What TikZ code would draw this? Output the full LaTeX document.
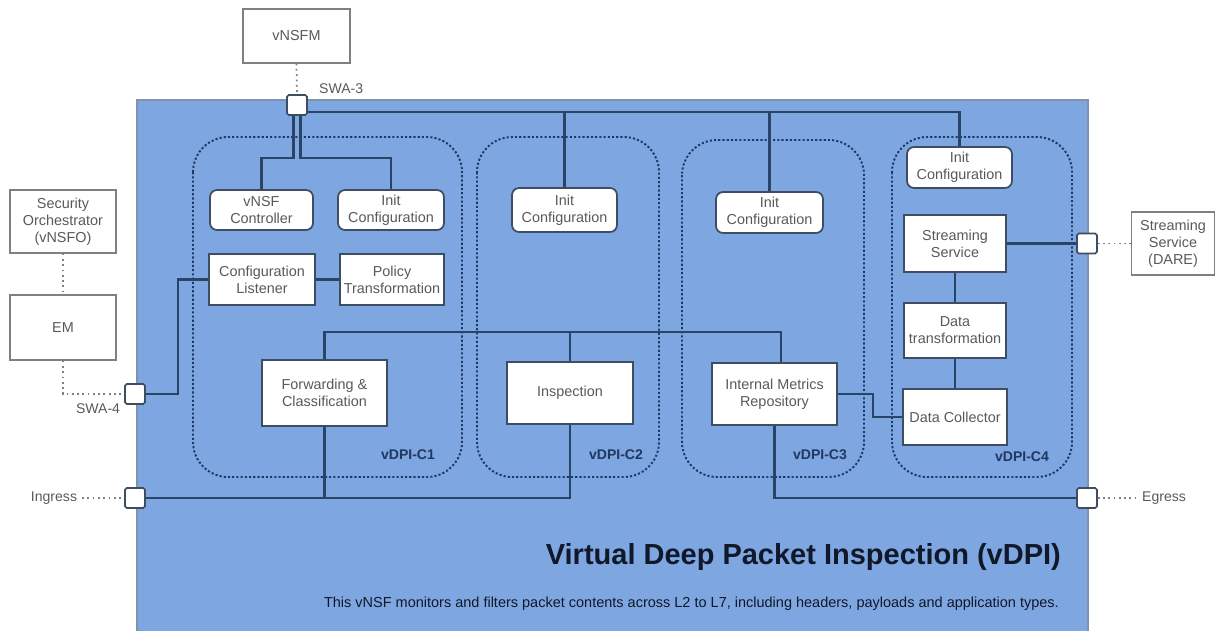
\documentclass[tikz,border=0pt]{standalone}
\usepackage{fontspec}
\setmainfont{Liberation Sans}
\usetikzlibrary{positioning,calc}

\definecolor{vdpiblue}{HTML}{7EA6E0}
\definecolor{vdpiedge}{HTML}{7F93B0}
\definecolor{linkblue}{HTML}{2A4468}
\definecolor{grpblue}{HTML}{1F3864}
\definecolor{boxline}{HTML}{3F4D63}
\definecolor{extline}{HTML}{808080}
\definecolor{txtgray}{HTML}{595959}
\definecolor{titleink}{HTML}{10182A}

\begin{document}
\begin{tikzpicture}[
    x=0.02cm, y=-0.02cm,
    node font=\fontsize{8.2}{9.6}\selectfont,
    inner box/.style={draw=boxline, fill=white, line width=1pt, text=txtgray, align=center, inner sep=1pt},
    inner round/.style={inner box, rounded corners=4pt},
    ext box/.style={draw=extline, fill=white, line width=0.8pt, text=txtgray, align=center, inner sep=1pt},
    port/.style={draw=boxline, fill=white, line width=0.9pt, minimum size=0.4cm, inner sep=0pt, rounded corners=1pt},
    link/.style={draw=linkblue, line width=1.3pt},
    ext link/.style={draw=extline, line width=1pt, dotted},
    group/.style={draw=grpblue, line width=1.1pt, dash pattern=on 1.2pt off 1.2pt, rounded corners=20pt},
    grp label/.style={font=\fontsize{8}{9}\selectfont\bfseries, text=grpblue},
    side label/.style={text=txtgray, font=\fontsize{8}{9}\selectfont},
]

\useasboundingbox (0,0) rectangle (1216,630);

% vDPI area
\filldraw[fill=vdpiblue, draw=vdpiedge, line width=1pt] (137,100) rectangle (1088,633);

% Component groups
\draw[group] (193,137) rectangle (462,477);
\draw[group] (477,137) rectangle (659,477);
\draw[group] (682,140) rectangle (864,477);
\draw[group] (892,137) rectangle (1072,477);

\node[grp label] (c1lbl) at (408,455) {vDPI-C1};
\node[grp label] (c2lbl) at (616,455) {vDPI-C2};
\node[grp label] (c3lbl) at (820,455) {vDPI-C3};
\node[grp label] (c4lbl) at (1022,457) {vDPI-C4};

% External boxes
\node[ext box, minimum width=2.14cm, minimum height=1.08cm] (vnsfm) at (296.5,36) {vNSFM};
\node[ext box, minimum width=2.12cm, minimum height=1.26cm] (vnsfo) at (63,221.5) {Security\\Orchestrator\\(vNSFO)};
\node[ext box, minimum width=2.12cm, minimum height=1.30cm] (em) at (63,327.5) {EM};
\node[ext box, minimum width=1.66cm, minimum height=1.26cm] (dare) at (1173,243.5) {Streaming\\Service\\(DARE)};

% Ports
\node[port] (swa3) at (297,105) {};
\node[port] (swa4) at (135,394) {};
\node[port] (ingr) at (135,498) {};
\node[port] (egr) at (1087,498) {};
\node[port] (pstream) at (1087,243.5) {};

\node[side label, anchor=west] (swa3lbl) at (314,89) {SWA-3};
\node[side label] (swa4lbl) at (98,409) {SWA-4};
\node[side label] (inlbl) at (54,498) {Ingress};
\node[side label] (eglbl) at (1164,498) {Egress};

% vDPI-C1
\node[inner round, minimum width=2.06cm, minimum height=0.80cm] (ctrl) at (261.5,210) {vNSF\\Controller};
\node[inner round, minimum width=2.12cm, minimum height=0.80cm] (init1) at (391,210) {Init\\Configuration};
\node[inner box, minimum width=2.12cm, minimum height=1.02cm] (listener) at (262,279.5) {Configuration\\Listener};
\node[inner box, minimum width=2.08cm, minimum height=1.02cm] (policy) at (392,279.5) {Policy\\Transformation};
\node[inner box, minimum width=2.50cm, minimum height=1.32cm] (fwd) at (324.5,393) {Forwarding \&\\Classification};

% vDPI-C2
\node[inner round, minimum width=2.10cm, minimum height=0.88cm] (init2) at (564.5,210) {Init\\Configuration};
\node[inner box, minimum width=2.52cm, minimum height=1.24cm] (insp) at (570,393) {Inspection};

% vDPI-C3
\node[inner round, minimum width=2.14cm, minimum height=0.82cm] (init3) at (769.5,212.5) {Init\\Configuration};
\node[inner box, minimum width=2.50cm, minimum height=1.24cm] (imr) at (774.5,394) {Internal Metrics\\Repository};

% vDPI-C4
\node[inner round, minimum width=2.10cm, minimum height=0.82cm] (init4) at (959.5,167.5) {Init\\Configuration};
\node[inner box, minimum width=2.04cm, minimum height=1.14cm] (stream) at (955,243.5) {Streaming\\Service};
\node[inner box, minimum width=2.04cm, minimum height=1.10cm] (dtrans) at (955,330.5) {Data\\transformation};
\node[inner box, minimum width=2.08cm, minimum height=1.12cm] (dcoll) at (955,417) {Data Collector};

% Title and description
\node[anchor=east, text=titleink, font=\fontsize{16.5}{19}\selectfont\bfseries] (title) at (1066,557) {Virtual Deep Packet Inspection (vDPI)};
\node[anchor=east, text=titleink, font=\fontsize{8.25}{9.5}\selectfont] (desc) at (1064,604) {This vNSF monitors and filters packet contents across L2 to L7, including headers, payloads and application types.};

% Management links
\coordinate (topbus) at ([yshift=-4pt]swa3.east);
\coordinate (split) at (297,158);
\coordinate (midbus) at (0,332);
\coordinate (imrtop) at ([xshift=3.5pt]imr.north);

\draw[ext link] (vnsfm.south) -- (swa3.north);
\draw[link] (topbus) -| (init4.north);
\draw[link] (init2.north) -- (init2.north |- topbus);
\draw[link] (init3.north) -- (init3.north |- topbus);
\draw[link] ([xshift=-2pt]swa3.south) -- ([xshift=-2pt]split) -| (ctrl.north);
\draw[link] ([xshift=2pt]swa3.south) -- ([xshift=2pt]split) -| (init1.north);

\draw[ext link] (vnsfo.south) -- (em.north);
\draw[ext link] (em.south) |- (swa4.west);
\draw[link] (listener.west) -- ++(-30,0) |- (swa4.east);
\draw[link] (listener.east) -- (policy.west);

% Data path
\draw[ext link] (inlbl.east) -- (ingr.west);
\draw[link] (ingr.east) -| (insp.south);
\draw[link] (fwd.south) -- (fwd.south |- ingr.east);
\draw[link] (fwd.north) |- (imrtop |- midbus) -- (imrtop);
\draw[link] (insp.north) -- (insp.north |- midbus);
\draw[link] (imr.south) |- (egr.west);
\draw[ext link] (egr.east) -- (eglbl.west);

% Streaming
\draw[link] (imr.east) -- ++(35,0) |- (dcoll.west);
\draw[link] (stream.south) -- (dtrans.north);
\draw[link] (dtrans.south) -- (dcoll.north);
\draw[link] (stream.east) -- (pstream.west);
\draw[ext link] (pstream.east) -- (dare.west);

\end{tikzpicture}
\end{document}
